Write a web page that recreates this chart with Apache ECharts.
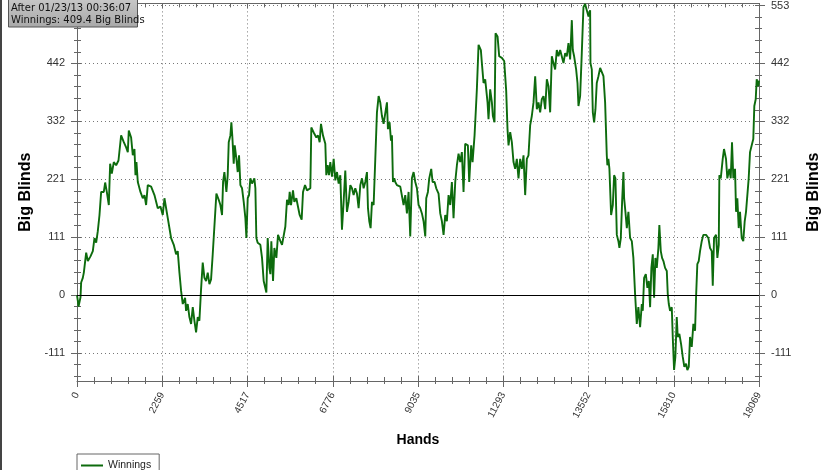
<!DOCTYPE html>
<html><head><meta charset="utf-8">
<script src="https://cdn.jsdelivr.net/npm/echarts@6/dist/echarts.min.js"></script>
<style>html,body{margin:0;padding:0;background:#fff}#c{width:835px;height:470px}</style>
</head><body><div id="c"></div>
<script>
// ---- data ----
const hands = [0,22,40,93,110,154,181,243,287,357,419,463,508,551,596,640,710,746,790,843,878,922,975,1037,1099,1169,1240,1302,1346,1372,1434,1478,1522,1549,1575,1611,1681,1743,1787,1831,1875,1964,2052,2140,2211,2272,2317,2361,2405,2493,2564,2625,2669,2714,2758,2802,2864,2890,2934,2978,3023,3067,3111,3155,3199,3243,3287,3331,3376,3420,3464,3508,3552,3596,
3640,3693,3755,3799,3843,3870,3905,3958,3993,4020,4064,4090,4117,4152,4179,4223,4258,4293,4329,4373,4417,4461,4488,4523,4558,4593,4638,4699,4726,4752,4787,4858,4902,4946,4990,5017,5052,5096,5123,5149,5194,5229,5282,5326,5388,5432,5476,5520,5564,5608,5635,5670,5723,5758,5811,5846,5899,5952,5988,6041,6094,6182,6208,6252,6288,6341,6385,6429,6464,6517,6579,6605,6641,6676,6711,6756,6800,6844,6888,6932,6976,7020,7064,7108,7152,7197,
7241,7285,7329,7373,7417,7461,7506,7550,7594,7638,7682,7709,7744,7779,7815,7859,7903,7947,7991,8035,8079,8123,8167,8212,8238,8282,8318,8344,8371,8406,8432,8476,8521,8565,8609,8653,8697,8741,8785,8829,8873,8918,8962,9006,9050,9094,9138,9182,9227,9253,9297,9332,9385,9421,9474,9518,9579,9624,9668,9712,9756,9800,9844,9888,9932,9976,10021,10065,10109,10153,10197,10241,10285,10356,10391,10444,10480,10533,10568,10594,
10639,10700,10727,10771,10815,10877,10903,10947,10992,11018,11062,11089,11142,11186,11256,11318,11371,11406,11433,11477,11521,11565,11609,11653,11697,11741,11786,11830,11874,11918,11962,12006,12050,12095,12139,12183,12227,12271,12315,12359,12404,12448,12492,12536,12580,12624,12668,12712,12756,12801,12845,12889,12933,12977,13021,13065,13110,13136,13171,13224,13260,13286,13330,13374,13418,13462,13507,13551,13595,13604,13639,13666,13701,13736,13771,13815,
13860,13904,13948,13992,14036,14052,14079,14106,14151,14196,14230,14265,14302,14344,14371,14408,14442,14477,14496,14530,14567,14609,14654,14699,14741,14786,14831,14873,14919,14964,14990,15025,15070,15112,15150,15184,15218,15255,15290,15324,15361,15403,15429,15467,15501,15537,15581,15626,15652,15679,15713,15758,15784,15819,15853,15890,15916,15959,16004,16049,16091,16136,16171,16208,16242,16287,16330,16375,16401,16435,16472,16507,16552,16594,16666,16727,16772,16817,16844,16878,16931,16966,17003,17019,17056,17108,17142,17195,17230,17283,17320,17354,17389,17434,17461,17495,17532,17566,17611,17653,17690,17725,17759,17796,17831,17876,17918,17945,17982,18008,18051,18069];
const winnings = [0,-11,-22,-4,24,33,43,81,65,74,84,109,100,122,153,197,197,215,197,172,251,232,254,248,257,305,292,282,273,314,301,267,279,229,254,216,197,185,191,172,210,207,191,166,169,153,185,188,147,109,96,78,84,43,8,-17,-5,-30,-17,-42,-55,-23,-49,-71,-42,-49,11,62,33,27,43,21,30,78,
81,194,182,172,153,216,235,197,229,292,305,330,301,251,286,260,235,267,210,204,178,147,109,185,191,223,213,223,204,109,100,96,71,27,24,5,109,52,40,103,27,90,71,115,103,96,93,131,182,172,197,172,200,178,185,172,153,144,197,210,200,204,320,317,308,301,305,292,327,305,289,229,248,229,254,226,260,219,235,213,229,125,178,238,159,178,
210,204,191,204,194,166,210,223,204,216,235,166,141,128,178,172,260,349,380,368,342,327,324,368,317,330,295,305,216,223,216,210,213,207,204,172,191,156,197,112,223,235,216,204,172,166,156,141,112,185,197,223,241,216,216,204,194,156,141,115,153,141,191,172,216,147,216,248,270,254,273,197,289,286,216,286,254,305,355,393,
478,468,443,405,412,368,336,393,368,342,330,500,494,456,453,447,390,317,286,311,292,254,241,260,223,260,241,267,191,260,267,324,342,368,418,355,368,349,374,380,355,412,399,349,456,443,431,468,456,468,465,443,462,456,481,450,525,468,456,431,405,361,380,462,550,556,544,532,544,443,431,349,330,355,405,418,
434,437,418,368,267,248,260,241,153,172,229,223,115,103,90,109,178,235,185,159,128,159,109,103,71,2,-55,-23,-61,-17,-30,33,40,14,27,-23,52,78,-5,71,52,90,134,84,71,65,52,46,2,-17,-30,-23,-80,-143,-118,-42,-80,-74,-93,-118,-137,-131,-143,-137,-80,-99,-55,-68,-5,59,65,84,103,115,115,109,90,84,18,109,115,71,96,229,223,260,279,260,223,241,223,292,223,241,159,185,128,159,109,103,141,159,159,223,273,286,298,361,374,412,399,409.4];
const seriesName = 'Winnings';
const yMajor = [-110.6, 0, 110.6, 221.2, 331.8, 442.4, 553];
const yMajorLabels = ['-111','0','111','221','332','442','553'];
const xMax = 18069;
const infoLines = ['Filter: No Filter', 'After 01/23/13 00:36:07', 'Winnings: 409.4 Big Blinds'];

// ---- chart ----
const yMinor = [];
for (let k = -7; k <= 25; k++) yMinor.push(Math.round(k * 22.12 * 100) / 100);
const Y_MIN = -164, Y_MAX = 557;
const AX = '#666';
const FONT = 'Liberation Sans';

function yLabel(v) {
  let best = 0, d = 1e9;
  yMajor.forEach((m, i) => { if (Math.abs(m - v) < d) { d = Math.abs(m - v); best = i; } });
  return yMajorLabels[best];
}
function bareY(pos, tickVals, inside, len) {
  return { type: 'value', position: pos, offset: 0, min: Y_MIN, max: Y_MAX,
    axisLine: { show: false, onZero: false }, axisLabel: { show: false }, splitLine: { show: false },
    axisTick: { show: true, customValues: tickVals, inside: inside, length: len, lineStyle: { color: AX } } };
}
function mainY(pos, split, gap) {
  return { type: 'value', position: pos, offset: 0, min: Y_MIN, max: Y_MAX,
    name: 'Big Blinds', nameLocation: 'middle', nameGap: gap,
    nameTextStyle: { fontSize: 16, fontWeight: 'bold', color: '#000', fontFamily: FONT },
    axisLine: { show: true, onZero: false, lineStyle: { color: AX, width: 1 } },
    axisTick: { show: true, customValues: yMajor, length: 6, lineStyle: { color: AX } },
    axisLabel: { customValues: yMajor, formatter: yLabel, margin: 12, fontSize: 11, color: '#333', fontFamily: FONT },
    splitLine: { show: split, lineStyle: { type: [1, 3], color: '#777', width: 1 } } };
}
function bareX(pos, line) {
  return { type: 'value', position: pos, offset: 0, min: 0, max: xMax, interval: xMax / 8,
    axisLine: { show: line, onZero: false, lineStyle: { color: AX } }, axisLabel: { show: false }, splitLine: { show: false },
    axisTick: { show: true, inside: true, length: 5, lineStyle: { color: AX } },
    minorTick: { show: true, splitNumber: 5, length: 4, lineStyle: { color: AX } } };
}
const chart = echarts.init(document.getElementById('c'), null, { renderer: 'canvas' });
chart.setOption({
  animation: false,
  textStyle: { fontFamily: FONT },
  grid: { left: 77, right: 76, top: 0, bottom: 89 },
  xAxis: [
    { type: 'value', position: 'bottom', offset: 0, min: 0, max: xMax, interval: xMax / 8,
      name: 'Hands', nameLocation: 'middle', nameGap: 52,
      nameTextStyle: { fontSize: 14, fontWeight: 'bold', color: '#000', fontFamily: FONT },
      axisLine: { show: true, onZero: false, lineStyle: { color: AX } },
      axisTick: { show: true, length: 6, lineStyle: { color: AX } },
      minorTick: { show: true, splitNumber: 5, length: 3, lineStyle: { color: AX } },
      axisLabel: { rotate: 62, formatter: v => String(Math.round(v)), fontSize: 10, color: '#333', margin: 12, fontFamily: FONT },
      splitLine: { show: true, lineStyle: { type: [1, 3], color: '#777' } } },
    bareX('bottom', false),
    bareX('top', true)
  ],
  yAxis: [
    mainY('left', true, 43),
    bareY('left', yMinor, true, 4),
    bareY('left', yMinor, false, 3),
    mainY('right', false, 47),
    bareY('right', yMinor, true, 4),
    bareY('right', yMinor, false, 3)
  ],
  legend: {
    data: [{ name: seriesName, icon: 'rect' }],
    left: 77, top: 454, orient: 'horizontal',
    itemWidth: 22, itemHeight: 2, itemGap: 5,
    borderColor: '#666', borderWidth: 1, padding: [6, 8, 10, 4],
    textStyle: { fontSize: 10.5, color: '#222', fontFamily: FONT }
  },
  series: [{
    name: seriesName, type: 'line', xAxisIndex: 0, yAxisIndex: 0,
    data: hands.map((h, i) => [h, winnings[i]]),
    showSymbol: false, symbol: 'none',
    lineStyle: { color: '#0d6b0d', width: 1.9 },
    itemStyle: { color: '#0d6b0d' },
    markLine: { silent: true, symbol: ['none', 'none'], label: { show: false },
      lineStyle: { color: '#000', width: 1, type: 'solid' }, data: [{ yAxis: 0 }] }
  }],
  graphic: [
    { type: 'rect', z: 200, zlevel: 1, shape: { x: 0, y: 0, width: 2, height: 470 }, style: { fill: '#444' } },
    { type: 'rect', z: 200, zlevel: 1, shape: { x: 8.5, y: -16, width: 129, height: 43 },
      style: { fill: new echarts.graphic.LinearGradient(0, 0, 0, 1, [{ offset: 0, color: '#d8d8d8' }, { offset: 1, color: '#a8a8a8' }]), stroke: '#555', lineWidth: 1 } },
    { type: 'text', z: 201, zlevel: 1, x: 11, y: -3, style: { text: infoLines[0], fontSize: 10, fontFamily: 'DejaVu Sans', fill: '#111', verticalAlign: 'middle' } },
    { type: 'text', z: 201, zlevel: 1, x: 11, y: 8.5, style: { text: infoLines[1], fontSize: 10, fontFamily: 'DejaVu Sans', fill: '#111', verticalAlign: 'middle' } },
    { type: 'text', z: 201, zlevel: 1, x: 11, y: 20, style: { text: infoLines[2], fontSize: 10, fontFamily: 'DejaVu Sans', fill: '#111', verticalAlign: 'middle' } }
  ]
});
</script></body></html>
